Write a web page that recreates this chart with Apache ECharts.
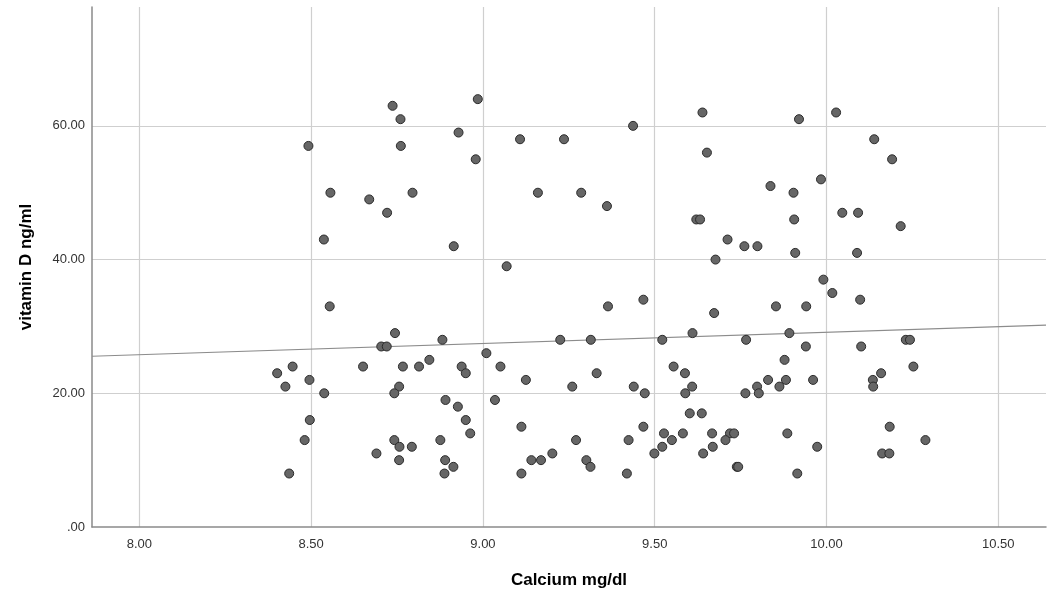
<!DOCTYPE html>
<html>
<head>
<meta charset="utf-8">
<style>
  html, body { margin: 0; padding: 0; background: #ffffff; }
  #chart { width: 1056px; height: 596px; }
</style>
<script src="https://cdn.jsdelivr.net/npm/echarts@6/dist/echarts.min.js"></script>
</head>
<body>
<div id="chart"></div>
<script>
// Calcium (mg/dl) for each subject
const calcium = [
  8.737, 8.985, 8.760, 8.929, 8.492, 8.761, 8.979, 8.556, 8.669, 8.795, 8.721, 8.537, 8.915, 9.069,
  8.554, 8.744, 8.704, 8.720, 8.882, 9.010, 8.401, 8.446, 8.425, 8.495, 8.538, 8.651, 8.767, 8.814,
  8.844, 8.938, 8.950, 9.051, 8.756, 8.742, 8.891, 8.927, 9.035, 8.950, 8.963, 8.496, 8.481, 8.742,
  8.757, 8.793, 8.876, 8.690, 8.756, 8.890, 8.914, 8.888, 8.436,
  9.108, 9.236, 9.437, 9.160, 9.286, 9.361, 9.639, 9.652, 9.621, 9.632, 9.712, 9.761, 9.677,
  9.364, 9.467, 9.673, 9.225, 9.314, 9.522, 9.610, 9.766, 9.125, 9.331,
  9.260, 9.439, 9.471, 9.555, 9.588, 9.609, 9.589, 9.764, 9.602, 9.637,
  9.112, 9.467, 9.271, 9.424, 9.527, 9.550, 9.582, 9.667, 9.719, 9.731,
  9.706, 9.669, 9.522, 9.202, 9.499, 9.641, 9.141, 9.169, 9.301, 9.313,
  9.739, 9.743, 9.112, 9.419,
  9.920, 10.028, 10.139, 10.191, 9.984, 9.837, 9.904, 9.906, 10.046, 10.092, 10.216, 9.799, 9.909, 10.089, 9.991, 10.017,
  10.098, 9.853, 9.941, 9.892, 9.940, 10.101, 10.231, 10.243, 9.878, 10.253,
  9.830, 9.882, 9.961, 9.798, 9.863, 9.803, 10.159, 10.135, 10.136, 10.184,
  10.288, 9.886, 9.973, 10.162, 10.183, 9.915
];
// Vitamin D (ng/ml) for each subject, same order
const vitaminD = [
  63, 64, 61, 59, 57, 57, 55, 50, 49, 50, 47, 43, 42, 39,
  33, 29, 27, 27, 28, 26, 23, 24, 21, 22, 20, 24, 24, 24,
  25, 24, 23, 24, 21, 20, 19, 18, 19, 16, 14, 16, 13, 13,
  12, 12, 13, 11, 10, 10, 9, 8, 8,
  58, 58, 60, 50, 50, 48, 62, 56, 46, 46, 43, 42, 40,
  33, 34, 32, 28, 28, 28, 29, 28, 22, 23,
  21, 21, 20, 24, 23, 21, 20, 20, 17, 17,
  15, 15, 13, 13, 14, 13, 14, 14, 14, 14,
  13, 12, 12, 11, 11, 11, 10, 10, 10, 9,
  9, 9, 8, 8,
  61, 62, 58, 55, 52, 51, 50, 46, 47, 47, 45, 42, 41, 41, 37, 35,
  34, 33, 33, 29, 27, 27, 28, 28, 25, 24,
  22, 22, 22, 21, 21, 20, 23, 22, 21, 15,
  13, 14, 12, 11, 11, 8
];
// Fit line end points
const fitX = [7.862, 10.639];
const fitY = [25.54, 30.19];
// Tick labels
const xTickValues = [8.0, 8.5, 9.0, 9.5, 10.0, 10.5];
const xTickLabels = ['8.00', '8.50', '9.00', '9.50', '10.00', '10.50'];
const yTickValues = [0, 20, 40, 60];
const yTickLabels = ['.00', '20.00', '40.00', '60.00'];

const points = calcium.map((c, i) => [c, vitaminD[i]]);
const fitLine = fitX.map((x, i) => [x, fitY[i]]);

function lookup(values, labels, v) {
  for (let i = 0; i < values.length; i++) {
    if (Math.abs(values[i] - v) < 1e-6) return labels[i];
  }
  return '';
}

const FONT = '"Liberation Sans", Arial, sans-serif';
const chart = echarts.init(document.getElementById('chart'), null, { renderer: 'canvas' });
chart.setOption({
  animation: false,
  backgroundColor: '#ffffff',
  grid: { left: 92, right: 10, top: 7, bottom: 69, containLabel: false },
  xAxis: {
    type: 'value',
    min: 7.862,
    max: 10.639,
    minInterval: 0.5,
    maxInterval: 0.5,
    name: 'Calcium mg/dl',
    nameLocation: 'middle',
    nameGap: 45,
    nameTextStyle: { fontFamily: FONT, fontSize: 17, fontWeight: 'bold', color: '#000000' },
    axisLine: { show: true, onZero: false, lineStyle: { color: '#8a8a8a', width: 1.5 } },
    axisTick: { show: false },
    axisLabel: {
      margin: 11,
      fontFamily: FONT, fontSize: 13, color: '#333333',
      showMinLabel: false, showMaxLabel: false,
      formatter: v => lookup(xTickValues, xTickLabels, v)
    },
    splitLine: { show: true, showMinLine: false, showMaxLine: false, lineStyle: { color: '#cfcfcf', width: 1.2 } }
  },
  yAxis: {
    type: 'value',
    min: 0,
    max: 77.78,
    interval: 20,
    name: 'vitamin D ng/ml',
    nameLocation: 'middle',
    nameGap: 57,
    nameRotate: 90,
    nameTextStyle: { fontFamily: FONT, fontSize: 17, fontWeight: 'bold', color: '#000000' },
    axisLine: { show: true, onZero: false, lineStyle: { color: '#8a8a8a', width: 1.5 } },
    axisTick: { show: false },
    axisLabel: {
      margin: 7,
      padding: [4, 0, 0, 0],
      fontFamily: FONT, fontSize: 13, color: '#333333',
      showMaxLabel: false,
      formatter: v => lookup(yTickValues, yTickLabels, v)
    },
    splitLine: { show: true, showMinLine: false, showMaxLine: false, lineStyle: { color: '#cfcfcf', width: 1.2 } }
  },
  series: [
    {
      type: 'line',
      data: fitLine,
      showSymbol: false,
      symbol: 'none',
      lineStyle: { color: '#8c8c8c', width: 1.2 },
      silent: true,
      z: 1
    },
    {
      type: 'scatter',
      data: points,
      symbol: 'circle',
      symbolSize: 9,
      itemStyle: { color: '#666666', borderColor: '#2b2b2b', borderWidth: 1, opacity: 1 },
      z: 2
    }
  ]
});
</script>
</body>
</html>
